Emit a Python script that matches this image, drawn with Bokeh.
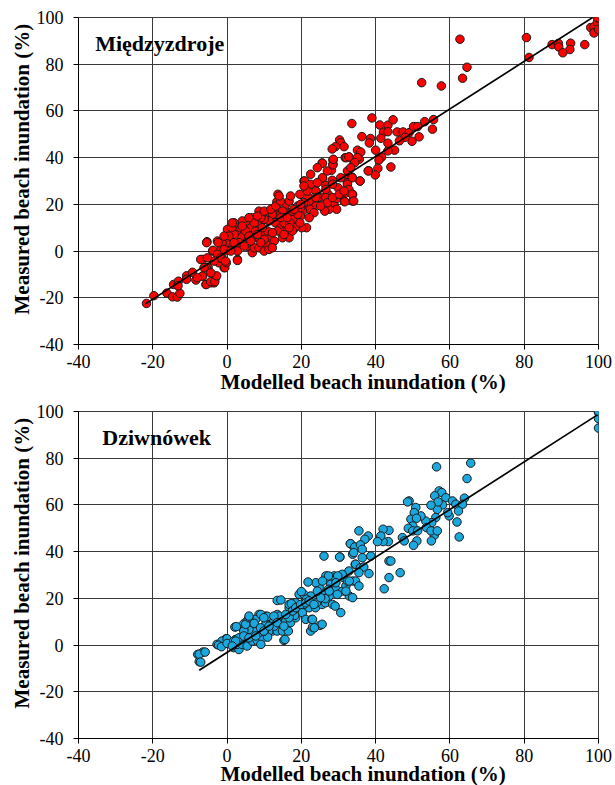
from bokeh.plotting import figure
from bokeh.layouts import column
from bokeh.models import Range1d, FixedTicker, Label, Title
from bokeh.embed import file_html
from bokeh.resources import INLINE

ticks = [-40, -20, 0, 20, 40, 60, 80, 100]
tick_labels = ["-40", "-20", "0", "20", "40", "60", "80", "100"]
x_title = "Modelled beach inundation (%)"
y_title = "Measured beach inundation (%)"

# ---- Międzyzdroje ----
mied_name = "Międzyzdroje"
mied_modelled = [
    62.7, 80.6, 81.3, 64.6, 63.4, 52.4, 57.7, 87.5, 89.2, 89.3, 92.5, 92.3, 90.4, 96.3, 97.9, 98.8, 99.7, 100, 99.7, 98.8, 100,
    33.6, 39.0, 41.1, 43.3, 44.7, 42.1, 43.3, 45.8, 47.4, 49.0, 50.2, 51.3, 53.2, 55.6, 55.3, 51.7, 49.8, 47.9, 46.4, 45.1,
    43.3, 43.3, 41.4, 40.0, 41.6, 40.9, 44.1, 40.6, 39.9, 38.1, 38.6, 38.3, 36.3, 35.8, 35.1, 36.0, 35.6, 34.2, 32.8, 31.8,
    30.3, 30.6, 31.5, 29.2, 28.3, 28.5, 28.5, 28.1, 25.6, 25.7, 28.3, 32.3, 33.6, 32.4, 29.9, 31.7, 33.8, 33.8, 31.5, 27.2,
    27.0, 23.9, 25.2, 21.6, 20.7, 22.0, 24.0, 28.8, 20.6,
    25.7, 28.5, 28.6, 32.1, 32.8, 35.1, 34.4, 38.0, 35.8, 33.7, 32.4, 32.8, 33.7, 34.1, 31.7, 29.5, 29.5, 27.5, 26.3, 25.7,
    26.6, 23.9, 24.5, 26.6, 27.0, 23.9, 25.2, 22.1, 22.3, 23.4, 21.6, 19.6, 20.9, 20.6, 20.3, 19.8, 22.1, 21.4, 20.1, 18.3,
    19.6, 17.6, 16.7, 15.8, 16.7, 13.7, 13.4, 13.6, 15.0, 15.3, 13.7, 13.0, 14.4, 16.2, 16.7, 13.6, 11.8, 11.3, 12.7, 10.4,
    9.5, 8.9, 8.6, 10.8, 12.2, 11.3, 10.0, 6.8, 5.5, 4.1, 6.4, 7.7, 7.3, 6.4, 6.8, 5.5, 4.6, 3.7, 2.6, 1.9,
    3.2, 1.4, 2.8, 0.1, 0.8, 0.5, -0.4, -1.3, -1.7, -2.6, -3.9, -5.4, -0.6, 2.8, -0.8, -2.2, -3.1, -5.1, -6.6, -6.6,
    -5.7, -3.5, -4.4,
    -21.7, -19.7, -16.2, -14.7, -13.4, -12.7, -14.4, -13.1, -13.2, -10.9, -10.9, -9.3, -8.4, -6.6, -7.1, -8.0, -5.6, -5.6,
    -4.4, -3.3, -2.8, -2.4, -5.5, -3.8, -2.6, -0.8, -0.8, -0.6, -0.2, 2.8, -1.4,
    3.7, 5.0, 8.6, 10.0, 10.9, 12.2, 14.9, 15.3, 16.9, 17.6, 19.0, 14.4, 9.1, 7.3, 1.9, 1.2, 5.9, 7.3, 8.6, 10.0,
    11.3, 12.2, 9.1, 17.6, 19.0, 19.8, 23.9, 28.4, 30.2, 31.5, 30.6, 32.4, 33.3, 27.0, 24.3, 22.5, 21.6,
    1.4, 4.1, 5.9, 8.2, 10.0, 11.8, 13.1, 14.4, 14.0, 16.2, 18.0, 19.8, 17.1, 20.7, 22.5, 24.3, 26.6, 28.4, 16.7, 15.3,
    9.5, 8.2, 6.4, 4.6, 1.9, 1.0, -1.7, -0.4, -3.5, -5.3, -6.2, -4.4,
]
mied_measured = [
    90.7, 91.4, 82.9, 78.7, 74.0, 72.1, 70.7, 88.4, 88.9, 87.4, 89.0, 86.3, 84.9, 88.4, 95.7, 96.0, 97.9, 99.7, 100, 93.4, 94.9,
    54.6, 57.0, 54.0, 53.9, 56.2, 50.9, 51.1, 51.0, 51.0, 50.7, 53.3, 53.3, 55.4, 56.3, 52.2, 48.9, 47.0, 48.7, 47.2, 43.2,
    42.9, 46.2, 48.3, 43.2, 40.2, 39.0, 36.0, 35.4, 32.6, 34.4, 48.2, 46.3, 49.0, 30.0, 43.2, 42.4, 39.3, 37.9, 40.3, 40.0,
    47.6, 46.4, 44.7, 44.7, 43.7, 39.0, 37.2, 34.6, 37.7, 31.2, 30.3, 31.7, 31.7, 29.3, 27.1, 24.6, 24.3, 21.4, 21.4, 24.3,
    21.4, 25.7, 23.1, 27.1, 30.0, 22.9, 20.0, 20.0, 20.0,
    37.6, 36.9, 39.3, 40.0, 40.3, 40.0, 37.9, 34.3, 30.0, 31.4, 28.6, 26.4, 24.3, 21.4, 21.1, 22.6, 17.9, 17.9, 17.1, 31.4,
    28.1, 25.7, 22.9, 22.9, 20.7, 19.3, 19.3, 21.4, 17.9, 16.4, 23.6, 24.3, 30.0, 20.7, 17.1, 15.0, 14.3, 10.0, 10.0, 10.0,
    12.1, 13.6, 16.4, 20.0, 21.4, 24.3, 21.1, 17.9, 17.1, 14.3, 15.0, 12.1, 10.0, 10.0, 5.7, 8.6, 5.7, 1.4, 4.3, 2.9,
    7.9, 11.4, 17.1, 16.4, 15.7, 12.9, 13.6, 14.3, 12.1, 12.9, 10.0, 8.6, 5.7, 1.4, -0.7, 2.1, 5.0, 6.4, 8.6, 7.1,
    3.6, 1.4, 0.0, 9.3, 3.6, 6.4, 3.6, 3.6, 0.7, 4.3, 0.0, 4.0, 0.0, -3.6, -7.1, -5.0, -11.4, -7.1, -3.6, -10.7,
    -14.3, -13.6, -13.6,
    -22.4, -19.1, -18.0, -19.6, -19.7, -18.1, -14.3, -12.9, -14.9, -10.6, -12.1, -9.1, -12.4, -10.7, -3.6, -11.4, -7.1, -14.3,
    -13.1, -13.1, -10.6, 3.6, 3.6, 0.3, -1.4, 0.7, 6.4, -7.1, -5.0, -4.0, -3.1,
    10.0, 8.6, 5.7, 5.0, 8.6, 7.9, 5.7, 12.1, 12.1, 8.6, 15.7, 14.3, 14.3, 12.1, 12.1, 10.0, 6.4, 1.4, 1.4, 0.0,
    0.7, 1.4, 3.6, 17.1, 19.3, 18.6, 22.9, 22.9, 24.3, 25.7, 31.4, 34.3, 35.7, 34.3, 35.7, 28.6, 25.7,
    12.1, 10.7, 14.3, 15.0, 17.1, 17.9, 19.3, 21.4, 23.6, 14.3, 17.9, 20.0, 23.6, 27.9, 32.9, 29.3, 26.4, 28.6, 10.0, 7.1,
    10.0, 7.1, 4.3, 2.1, 3.6, 0.0, -2.9, -4.3, -4.3, -2.9, -7.1, -9.3,
]
mied_fit = {"slope": 1.018, "intercept": -0.2, "x_from": -22.0, "x_to": 98.4}

# ---- Dziwnówek ----
dziw_name = "Dziwnówek"
dziw_modelled = [
    -7.9, -6.5, -7.5, -2.7, -0.3, -1.1, 0.9, 1.8, 3.2, 2.7, 4.1, 5.4, 6.8, 8.1, 9.6, 8.6, 7.2, 5.9, 4.5, 4.5,
    5.4, 6.8, 8.6, 7.7, 10.4, 10.4, 12.2, 11.3, 13.5, 15.3, 14.9, 16.5, 14.0, 13.5, 15.8, 17.1, 16.7, 13.5, 16.7, 18.5,
    19.4, 20.7, 18.9, 18.5, 20.3, 21.2, 22.8, 22.5, 23.0, 25.0, 22.1, 20.7, 22.5, 24.1, 23.8, 25.6, 26.5, 26.1, 24.8, 23.9,
    26.6, 27.9, 28.8, 29.3, 28.4, 30.6, 27.5, 31.1, 32.0, 33.8, 32.9, 33.8, 31.3, 26.1, 30.4, 34.5, 33.8, 34.2, 33.2, 11.3,
    12.6, 2.1, 0.5, 2.3, -1.4,
    56.4, 65.6, 64.6, 57.1, 57.8, 55.9, 58.9, 60.7, 61.6, 63.9, 63.4, 62.3, 59.8, 61.9, 62.5, 59.4, 58.0, 56.6, 56.8, 54.9,
    56.2, 55.1, 53.5, 53.7, 55.8, 55.0, 54.9, 56.6, 52.2, 50.8, 50.4, 49.0, 48.6, 49.5, 51.0, 50.0, 48.8, 50.0, 51.3, 51.1,
    50.2, 47.2, 47.7, 43.6, 42.0, 43.4, 42.0, 41.4, 40.5, 43.6, 44.1, 46.6, 43.6, 42.3, 38.0, 37.1, 35.5, 33.2, 34.4, 35.9,
    36.4, 30.3, 36.4, 34.1, 38.7, 34.6, 35.9, 36.8, 38.2, 35.5, 32.8, 29.2, 31.0, 32.4, 34.6, 35.5,
    100, 100, 100, 100,
    -7.5, -5.9, -7.1, -2.3, -1.5, 0.0, 0.0, 1.8, 2.5, 4.5, 5.0, 5.9, 7.3, 9.1, 9.1, 10.9, 10.9, 14.5, 15.6, 17.3,
    18.2, 20.0, 21.4, 21.8, 23.0, 23.5, 25.6, 24.1, 26.4, 27.3, 29.8, 27.3, 29.1, 10.0, 12.7, 14.1, 18.2,
    3.2, 4.5, 5.9, 7.7, 9.0, 9.9, 11.3, 12.6, 13.5, 15.3, 16.7, 17.6, 15.8, 18.5, 19.8, 21.2, 22.1, 23.4, 25.2, 27.5,
    29.7, 32.0, 32.9, 29.3, 25.7, 24.3, 9.9, 5.9, 2.3, 1.4,
]
dziw_measured = [
    -4.0, -3.0, -7.1, 0.3, 2.7, 1.0, 1.0, -1.1, -1.9, 0.3, 0.3, -0.4, 1.7, 2.0, 3.1, 5.3, 6.0, 6.7, 6.7, 9.1,
    10.3, 9.6, 13.1, 11.0, 12.4, 8.9, 6.0, 6.0, 6.0, 2.0, 6.0, 6.0, 9.6, 13.1, 10.3, 9.6, 16.0, 19.1, 17.4, 18.1,
    21.7, 21.7, 14.6, 11.7, 13.9, 11.0, 11.0, 6.0, 7.7, 8.4, 16.0, 17.4, 21.0, 19.6, 16.0, 17.4, 18.1, 21.7, 24.6, 26.7,
    29.6, 26.0, 29.6, 23.9, 17.4, 13.9, 21.0, 23.1, 25.3, 27.4, 21.0, 20.3, 28.9, 38.1, 37.7, 34.6, 38.9, 42.0, 43.4, 11.7,
    10.3, 7.7, 1.7, 2.4, 1.7,
    76.3, 77.9, 71.3, 66.0, 65.3, 63.9, 63.1, 61.7, 60.3, 62.9, 60.3, 57.4, 55.3, 52.7, 46.3, 56.7, 60.0, 58.1, 61.3, 59.9,
    54.6, 52.4, 53.1, 50.3, 47.0, 44.6, 48.9, 48.9, 55.3, 58.9, 56.7, 61.7, 61.3, 53.9, 54.3, 51.0, 50.0, 48.9, 48.9, 44.6,
    42.7, 46.0, 44.6, 49.1, 49.6, 44.3, 44.3, 46.7, 44.3, 36.0, 36.0, 31.0, 28.9, 24.1, 46.7, 45.3, 48.9, 43.4, 42.0, 42.9,
    41.0, 37.7, 37.4, 39.6, 38.1, 34.6, 33.1, 33.4, 30.6, 31.0, 31.7, 28.9, 30.3, 27.4, 27.4, 25.3,
    99.6, 97.0, 92.9, 100,
    -3.9, -3.0, -7.3, 0.0, -0.7, 2.7, 0.7, 1.7, 7.9, 6.0, 8.9, 11.7, 9.3, 13.1, 0.3, 12.3, 3.4, 19.3, 2.4, 17.7,
    12.7, 22.9, 19.6, 27.0, 11.0, 7.4, 8.9, 18.1, 19.9, 23.9, 29.6, 29.6, 16.7, 6.0, 8.1, 12.4, 15.3,
    3.1, 3.9, 3.1, 3.9, 7.4, 6.0, 8.1, 12.4, 9.6, 8.1, 11.7, 14.6, 13.1, 16.0, 17.4, 18.1, 18.9, 17.4, 20.3, 23.1,
    21.7, 23.1, 27.4, 26.7, 27.4, 23.1, 11.7, 12.4, 1.7, -0.4,
]
dziw_fit = {"slope": 1.02, "intercept": -3.15, "x_from": -7.5, "x_to": 99.7}

SERIF = "Liberation Serif"


def make_panel(xs, ys, fill, name, fit, height, b_top, b_bottom, name_x, name_y, x_title_standoff):
    p = figure(width=615, height=height, output_backend="svg", toolbar_location=None,
               x_range=Range1d(-40, 100), y_range=Range1d(-40, 100),
               min_border_left=78, min_border_right=17,
               min_border_top=b_top, min_border_bottom=b_bottom)
    p.background_fill_color = "white"
    p.border_fill_color = "white"
    p.outline_line_color = "#3a3a3a"
    p.outline_line_width = 1
    for ax in (p.xaxis[0], p.yaxis[0]):
        ax.ticker = FixedTicker(ticks=ticks)
        ax.major_label_overrides = dict(zip(ticks, tick_labels))
        ax.major_label_text_font = SERIF
        ax.major_label_text_font_size = "18px"
        ax.major_label_text_color = "black"
        ax.axis_line_color = "black"
        ax.major_tick_line_color = "black"
        ax.major_tick_out = 5
        ax.major_tick_in = 0
        ax.minor_tick_line_color = None
    p.xaxis.major_label_standoff = 5
    p.yaxis.major_label_standoff = 10
    for g in (p.xgrid[0], p.ygrid[0]):
        g.ticker = FixedTicker(ticks=ticks)
        g.grid_line_color = "#3a3a3a"
        g.grid_line_width = 1

    lx = [fit["x_from"], fit["x_to"]]
    ly = [fit["slope"] * v + fit["intercept"] for v in lx]
    p.scatter(xs, ys, size=8.5, fill_color=fill, line_color="#1a1a1a", line_width=1)
    p.line(lx, ly, line_color="black", line_width=1.7)

    p.add_layout(Label(x=name_x, y=name_y, text=name, text_font=SERIF, text_font_style="bold",
                       text_font_size="22px", text_baseline="middle", text_color="black"))
    p.add_layout(Title(text=x_title, text_font=SERIF, text_font_style="bold",
                       text_font_size="21px", text_color="black", align="left",
                       offset=142, standoff=x_title_standoff), "below")
    p.add_layout(Title(text=y_title, text_font=SERIF, text_font_style="bold",
                       text_font_size="21px", text_color="black", align="left",
                       offset=30, standoff=0), "left")
    return p


top = make_panel(mied_modelled, mied_measured, "#ff0000", mied_name, mied_fit,
                 395, 17, 51, -35.5, 89, -6)
bottom = make_panel(dziw_modelled, dziw_measured, "#1ba8df", dziw_name, dziw_fit,
                    390, 16, 47, -33.6, 89, -10)

layout = column(top, bottom, spacing=0)
open("out.html", "w").write(file_html(layout, INLINE))
